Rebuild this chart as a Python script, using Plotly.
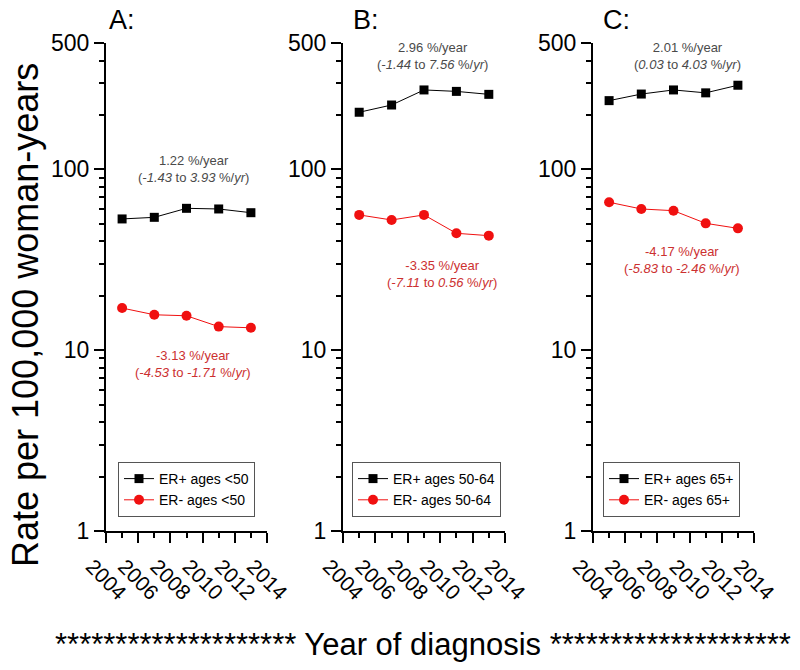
import plotly.graph_objects as go
import math

# ---- data ----
years = [2005, 2007, 2009, 2011, 2013]
er_pos_lt50 = [53.2, 54.3, 60.9, 60.4, 57.6]
er_neg_lt50 = [17.1, 15.7, 15.5, 13.5, 13.3]
er_pos_50_64 = [207, 227, 275, 270, 260]
er_neg_50_64 = [56, 52.5, 56, 44.3, 43]
er_pos_65 = [240, 261, 275, 265, 292]
er_neg_65 = [65.8, 60.4, 59.1, 50.3, 47.2]

panel_labels = ["A:", "B:", "C:"]
pos_names = ["ER+ ages &lt;50", "ER+ ages 50-64", "ER+ ages 65+"]
neg_names = ["ER- ages &lt;50", "ER- ages 50-64", "ER- ages 65+"]
pos_trend = ["1.22 %/year", "2.96 %/year", "2.01 %/year"]
pos_ci = ["(<i>-1.43</i> to <i>3.93</i> %/<i>yr</i>)",
          "(<i>-1.44</i> to <i>7.56</i> %/<i>yr</i>)",
          "(<i>0.03</i> to <i>4.03</i> %/<i>yr</i>)"]
neg_trend = ["-3.13 %/year", "-3.35 %/year", "-4.17 %/year"]
neg_ci = ["(<i>-4.53</i> to <i>-1.71</i> %/<i>yr</i>)",
          "(<i>-7.11</i> to <i>0.56</i> %/<i>yr</i>)",
          "(<i>-5.83</i> to <i>-2.46</i> %/<i>yr</i>)"]
x_ticks = [2004, 2006, 2008, 2010, 2012, 2014]
y_ticks = [1, 10, 100, 500]

pos_series = [er_pos_lt50, er_pos_50_64, er_pos_65]
neg_series = [er_neg_lt50, er_neg_50_64, er_neg_65]

# ---- layout geometry (pixels) ----
W, H = 800, 670
x_dom_px = [(106, 267), (343, 505), (593, 754)]
y_top_px, y_bot_px = 43, 531
legend_left_px = [118, 352, 603]
legend_top_px = 462
pos_txt_px = [(193, 169), (432, 56), (687, 56)]
neg_txt_px = [(193, 364), (442, 274), (682, 260)]
label_px = [(122, 20), (366, 20), (616, 20)]

FONT = "Liberation Sans, Arial, sans-serif"
BLACK = "#000000"
RED = "#f01010"
TXT_GRAY = "#4a4a4a"
TXT_RED = "#cc3030"

def px_x(x):
    return x / W

def px_y(y):
    return 1 - y / H

fig = go.Figure()
annotations = []
minor_y = [v * 10 ** d for d in range(0, 3) for v in range(2, 10) if v * 10 ** d < 500]

for i in range(3):
    sfx = "" if i == 0 else str(i + 1)
    xa = "x" + sfx
    ya = "y" + sfx
    leg = "legend" + sfx
    fig.add_trace(go.Scatter(
        x=years, y=pos_series[i], mode="lines+markers", name=pos_names[i],
        line=dict(color=BLACK, width=1),
        marker=dict(symbol="square", size=9, color=BLACK),
        xaxis=xa, yaxis=ya, legend=leg))
    fig.add_trace(go.Scatter(
        x=years, y=neg_series[i], mode="lines+markers", name=neg_names[i],
        line=dict(color=RED, width=1),
        marker=dict(symbol="circle", size=10, color=RED),
        xaxis=xa, yaxis=ya, legend=leg))

    xd = [px_x(x_dom_px[i][0]), px_x(x_dom_px[i][1])]
    yd = [px_y(y_bot_px), px_y(y_top_px)]
    fig.layout["xaxis" + sfx] = dict(
        domain=xd, anchor=ya, range=[2004, 2014], automargin=False,
        tickmode="array", tickvals=x_ticks, ticktext=[str(t) for t in x_ticks],
        ticks="outside", ticklen=10, tickwidth=2, tickcolor=BLACK,
        minor=dict(tickmode="array", tickvals=[2005, 2007, 2009, 2011, 2013],
                   ticks="outside", ticklen=5, tickwidth=2, tickcolor=BLACK),
        showline=True, linecolor=BLACK, linewidth=2, showgrid=False, zeroline=False,
        tickangle=45, tickfont=dict(family=FONT, size=21, color=BLACK),
        ticklabelshift=-14, ticklabelstandoff=3, fixedrange=True)
    fig.layout["yaxis" + sfx] = dict(
        domain=yd, anchor=xa, type="log", range=[0, math.log10(500)], automargin=False,
        tickmode="array", tickvals=y_ticks, ticktext=[str(t) for t in y_ticks],
        ticks="outside", ticklen=10, tickwidth=2, tickcolor=BLACK,
        minor=dict(tickmode="array", tickvals=minor_y,
                   ticks="outside", ticklen=5, tickwidth=2, tickcolor=BLACK),
        showline=True, linecolor=BLACK, linewidth=2, showgrid=False, zeroline=False,
        tickfont=dict(family=FONT, size=23, color=BLACK), fixedrange=True)
    fig.layout[leg] = dict(
        x=px_x(legend_left_px[i]), y=px_y(legend_top_px), xanchor="left", yanchor="top",
        bordercolor="#555555", borderwidth=1, bgcolor="rgba(255,255,255,1)",
        font=dict(family=FONT, size=14, color=BLACK), tracegroupgap=0,
        itemwidth=30)

    annotations.append(dict(
        x=px_x(pos_txt_px[i][0]), y=px_y(pos_txt_px[i][1]), xref="paper", yref="paper",
        xanchor="center", yanchor="middle",
        text=pos_trend[i] + "<br>" + pos_ci[i], showarrow=False,
        font=dict(family=FONT, size=13, color=TXT_GRAY), align="center"))
    annotations.append(dict(
        x=px_x(neg_txt_px[i][0]), y=px_y(neg_txt_px[i][1]), xref="paper", yref="paper",
        xanchor="center", yanchor="middle",
        text=neg_trend[i] + "<br>" + neg_ci[i], showarrow=False,
        font=dict(family=FONT, size=13, color=TXT_RED), align="center"))
    annotations.append(dict(
        x=px_x(label_px[i][0]), y=px_y(label_px[i][1]), xref="paper", yref="paper",
        xanchor="center", yanchor="middle",
        text=panel_labels[i], showarrow=False,
        font=dict(family=FONT, size=27, color=BLACK)))

annotations.append(dict(
    x=px_x(25), y=px_y(315), xref="paper", yref="paper", textangle=-90,
    xanchor="center", yanchor="middle",
    text="Rate per 100,000 woman-years", showarrow=False,
    font=dict(family=FONT, size=36, color=BLACK)))
stars = "*" * 20
annotations.append(dict(
    x=px_x(423), y=px_y(644), xref="paper", yref="paper",
    xanchor="center", yanchor="middle",
    text=stars + " Year of diagnosis " + stars, showarrow=False,
    font=dict(family=FONT, size=31, color=BLACK)))

fig.update_layout(
    template="none",
    width=W, height=H, margin=dict(l=0, r=0, t=0, b=0, autoexpand=False),
    paper_bgcolor="white", plot_bgcolor="white",
    annotations=annotations, showlegend=True)

fig.write_html("out.html", config={"displayModeBar": False},
               post_script="document.body.style.margin='0';document.body.style.padding='0';")
